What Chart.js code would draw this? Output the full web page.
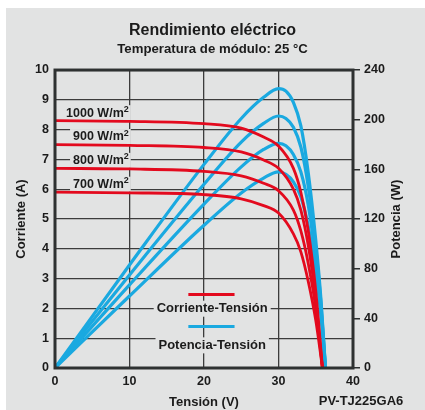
<!DOCTYPE html>
<html lang="es">
<head>
<meta charset="utf-8">
<title>Rendimiento eléctrico</title>
<script src="https://cdn.jsdelivr.net/npm/chart.js@4.4.1/dist/chart.umd.min.js"></script>
<style>
  html, body { margin: 0; padding: 0; background: #ffffff; }
  #wrap { position: relative; width: 425px; height: 410px; }
</style>
</head>
<body>
<div id="wrap"><canvas id="chart"></canvas></div>
<script>
// Curvas corriente-tensión (A) por irradiancia
const voltsIV = [0, 10, 20, 25, 28, 30, 32, 33, 34, 35, 35.9];
const current1000 = [8.3, 8.28, 8.2, 8.05, 7.75, 7.45, 6.7, 5.9, 4.6, 2.6, 0];
const current900  = [7.5, 7.47, 7.4, 7.25, 6.98, 6.7, 6.0, 5.3, 4.1, 2.3, 0];
const current800  = [6.7, 6.68, 6.6, 6.45, 6.2, 5.95, 5.3, 4.6, 3.5, 2.0, 0];
const current700  = [5.9, 5.88, 5.82, 5.68, 5.45, 5.2, 4.5, 3.9, 2.9, 1.6, 0];

// Curvas potencia-tensión (W)
const voltsPV = [0, 10, 20, 25, 28, 30, 31, 32, 33, 34, 35, 35.7, 36.3];
const power1000 = [0, 83, 164, 201, 218, 225, 223, 214, 195, 157, 103, 55, 0];
const power900  = [0, 75, 148, 182, 197, 203, 201, 194, 178, 146, 97, 52, 0];
const power800  = [0, 67, 132, 162, 176, 181, 179, 172, 158, 131, 88, 48, 0];
const power700  = [0, 58, 115, 141, 153, 158, 156, 150, 138, 114, 77, 42, 0];

const irradianceLabels = ['1000 W/m', '900 W/m', '800 W/m', '700 W/m'];
const legendLabels = ['Corriente-Tensión', 'Potencia-Tensión'];

const RED = '#e30a1e';
const BLUE = '#1aa9e0';
const BG = '#e2e3e3';
const INK = '#1b1b1b';
const GRID = '#3c3c3c';
const FONT = "'Liberation Sans', Arial, sans-serif";

Chart.defaults.font.family = FONT;
Chart.defaults.color = INK;

function pts(xs, ys) {
    return xs.map(function(x, i) { return { x: x, y: ys[i] }; });
}

function ivSet(data) {
    return {
        data: pts(voltsIV, data), yAxisID: 'y',
        borderColor: RED, borderWidth: 2.8, pointRadius: 0,
        cubicInterpolationMode: 'monotone', fill: false
    };
}
function pvSet(data) {
    return {
        data: pts(voltsPV, data), yAxisID: 'y2',
        borderColor: BLUE, borderWidth: 3.2, pointRadius: 0,
        cubicInterpolationMode: 'monotone', fill: false
    };
}

// fondo gris, etiquetas dentro del gráfico, marco y textos sueltos
const decor = {
    id: 'decor',
    beforeDraw: function(chart) {
        const c = chart.ctx;
        c.save();
        c.fillStyle = BG;
        c.fillRect(6, 8, chart.width - 6, chart.height - 8);
        c.restore();
    },
    beforeDatasetsDraw: function(chart) {
        const c = chart.ctx;
        const x = chart.scales.x, y = chart.scales.y;
        const starts = [current1000[0], current900[0], current800[0], current700[0]];
        c.save();
        c.textBaseline = 'middle';
        // etiquetas de irradiancia
        irradianceLabels.forEach(function(txt, i) {
            c.font = 'bold 12.5px ' + FONT;
            const w = c.measureText(txt).width;
            c.font = 'bold 9px ' + FONT;
            const w2 = c.measureText('2').width;
            const right = x.getPixelForValue(9.9);
            const cy = y.getPixelForValue(starts[i]) - 7.5;
            const left = right - w - w2;
            c.fillStyle = BG;
            c.fillRect(left - 3, cy - 8, w + w2 + 5, 15);
            c.fillStyle = INK;
            c.textAlign = 'left';
            c.font = 'bold 12.5px ' + FONT;
            c.fillText(txt, left, cy);
            c.font = 'bold 9px ' + FONT;
            c.fillText('2', left + w, cy - 4);
        });
        // leyenda
        const lx0 = x.getPixelForValue(17.9), lx1 = x.getPixelForValue(24.1);
        const tx = x.getPixelForValue(21.1);
        const rows = [
            { color: RED, line: 2.47, text: 1.99 },
            { color: BLUE, line: 1.39, text: 0.76 }
        ];
        c.font = 'bold 13px ' + FONT;
        c.textAlign = 'center';
        rows.forEach(function(r, i) {
            const ly = y.getPixelForValue(r.line);
            c.strokeStyle = r.color;
            c.lineWidth = 3;
            c.beginPath();
            c.moveTo(lx0, ly);
            c.lineTo(lx1, ly);
            c.stroke();
            const ty = y.getPixelForValue(r.text);
            const w = c.measureText(legendLabels[i]).width;
            c.fillStyle = BG;
            c.fillRect(tx - w / 2 - 3, ty - 8, w + 6, 16);
            c.fillStyle = INK;
            c.fillText(legendLabels[i], tx, ty);
        });
        c.restore();
    },
    afterDraw: function(chart) {
        const c = chart.ctx, a = chart.chartArea;
        c.save();
        c.strokeStyle = '#2e3131';
        c.lineWidth = 3;
        c.strokeRect(a.left, a.top, a.right - a.left, a.bottom - a.top);
        c.fillStyle = INK;
        c.font = 'bold 13px ' + FONT;
        c.textAlign = 'center';
        c.textBaseline = 'middle';
        c.fillText('PV-TJ225GA6', 361, 401);
        // título del eje derecho, leído de abajo arriba
        c.translate(396, (a.top + a.bottom) / 2);
        c.rotate(-Math.PI / 2);
        c.fillText('Potencia (W)', 0, 0);
        c.restore();
    }
};

new Chart(document.getElementById('chart'), {
    type: 'line',
    data: {
        datasets: [
            ivSet(current1000), ivSet(current900), ivSet(current800), ivSet(current700),
            pvSet(power1000), pvSet(power900), pvSet(power800), pvSet(power700)
        ]
    },
    options: {
        responsive: true,
        maintainAspectRatio: false,
        animation: false,
        events: [],
        layout: { padding: { top: 8, left: 0, right: 0, bottom: 0 } },
        plugins: {
            legend: { display: false },
            tooltip: { enabled: false },
            title: {
                display: true,
                text: 'Rendimiento eléctrico',
                color: INK,
                font: { size: 16, weight: 'bold' },
                padding: { top: 13, bottom: 1 }
            },
            subtitle: {
                display: true,
                text: 'Temperatura de módulo: 25 °C',
                color: INK,
                font: { size: 13.2, weight: 'bold' },
                padding: { top: 0, bottom: 13 }
            }
        },
        scales: {
            x: {
                type: 'linear',
                min: 0, max: 40,
                ticks: { stepSize: 10, padding: 6, color: INK, font: { size: 12.5, weight: 'bold' } },
                grid: { color: GRID, lineWidth: 1.3, drawTicks: false },
                border: { display: false },
                title: {
                    display: true, text: 'Tensión (V)', color: INK,
                    font: { size: 13, weight: 'bold' }, padding: { top: 0, bottom: 0 }
                },
                afterFit: function(s) { s.height = 42; }
            },
            y: {
                position: 'left',
                min: 0, max: 10,
                ticks: { stepSize: 1, padding: 6, color: INK, font: { size: 12.5, weight: 'bold' } },
                grid: { color: GRID, lineWidth: 1.3, drawTicks: false },
                border: { display: false },
                title: {
                    display: true, text: 'Corriente (A)', color: INK,
                    font: { size: 13, weight: 'bold' }, padding: { top: 14, bottom: 0 }
                },
                afterFit: function(s) { s.width = 55; }
            },
            y2: {
                position: 'right',
                min: 0, max: 240,
                ticks: { stepSize: 40, padding: 4, color: INK, font: { size: 12.5, weight: 'bold' } },
                grid: { drawOnChartArea: false, drawTicks: true, tickLength: 7, color: '#2e3131', lineWidth: 1.5 },
                border: { display: false },
                title: { display: false },
                afterFit: function(s) { s.width = 72; }
            }
        }
    },
    plugins: [decor]
});
</script>
</body>
</html>
